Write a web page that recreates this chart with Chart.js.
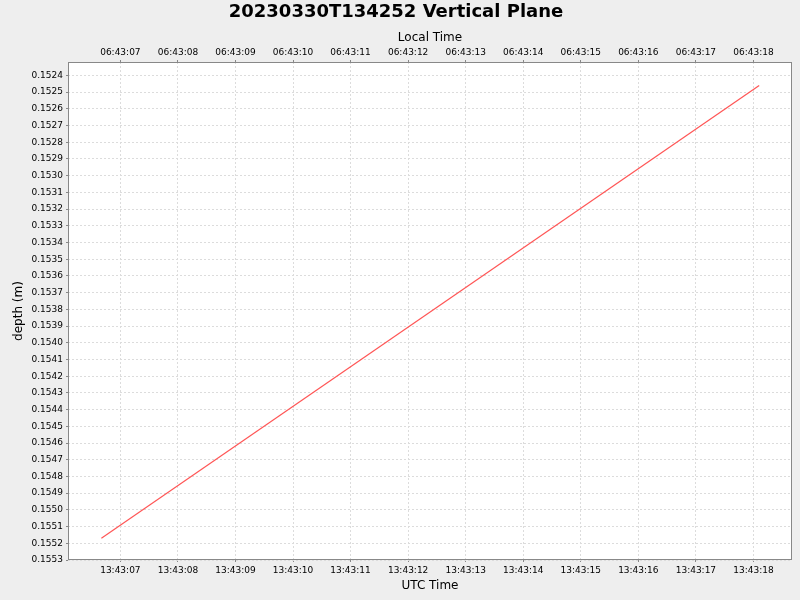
<!DOCTYPE html>
<html>
<head>
<meta charset="utf-8">
<script src="https://cdn.jsdelivr.net/npm/chart.js@4/dist/chart.umd.min.js"></script>
<style>
  html, body { margin: 0; padding: 0; background: #eeeeee; }
  #wrap { width: 800px; height: 600px; }
</style>
</head>
<body>
<div id="wrap"><canvas id="chart" width="800" height="600"></canvas></div>
<script>
// seconds after 13:43:00 UTC (local = UTC - 7h)
const timeSeconds = [6.67, 18.10]
const depthValues = [0.15517, 0.15246]

// tick labels
const tickSeconds = [7, 8, 9, 10, 11, 12, 13, 14, 15, 16, 17, 18]
const utcTickLabels = ['13:43:07', '13:43:08', '13:43:09', '13:43:10', '13:43:11', '13:43:12',
  '13:43:13', '13:43:14', '13:43:15', '13:43:16', '13:43:17', '13:43:18']
const localTickLabels = ['06:43:07', '06:43:08', '06:43:09', '06:43:10', '06:43:11', '06:43:12',
  '06:43:13', '06:43:14', '06:43:15', '06:43:16', '06:43:17', '06:43:18']
const depthTicks = [0.1524, 0.1525, 0.1526, 0.1527, 0.1528, 0.1529, 0.1530, 0.1531, 0.1532, 0.1533,
  0.1534, 0.1535, 0.1536, 0.1537, 0.1538, 0.1539, 0.1540, 0.1541, 0.1542, 0.1543,
  0.1544, 0.1545, 0.1546, 0.1547, 0.1548, 0.1549, 0.1550, 0.1551, 0.1552, 0.1553]

const FONT = 'DejaVu Sans'
const gridStyle = {
  color: '#dcdcdc',
  tickLength: 2,
  tickColor: '#888888',
  tickBorderDash: []
}
// grid lines dashed (v4 takes the dash from the border options)
const borderStyle = { display: false, dash: [2, 2] }

// white plot area with a grey frame, like the original
const plotFrame = {
  id: 'plotFrame',
  beforeDraw(chart) {
    const { ctx, chartArea: a } = chart
    ctx.save()
    ctx.fillStyle = '#eeeeee'
    ctx.fillRect(0, 0, chart.width, chart.height)
    ctx.fillStyle = '#ffffff'
    ctx.fillRect(a.left, a.top, a.right - a.left, a.bottom - a.top)
    ctx.restore()
  },
  afterDraw(chart) {
    const { ctx, chartArea: a } = chart
    ctx.save()
    ctx.strokeStyle = '#888888'
    ctx.lineWidth = 1
    ctx.strokeRect(a.left + 0.5, a.top + 0.5, a.right - a.left - 1, a.bottom - a.top - 1)
    ctx.restore()
  }
}

function fixedTicks(values) {
  return function(scale) {
    scale.ticks = values.map(v => ({ value: v }))
  }
}

function labelFor(list) {
  return function(value) {
    const i = tickSeconds.indexOf(Math.round(value))
    return i >= 0 ? list[i] : ''
  }
}

const ctx = document.getElementById('chart').getContext('2d')
new Chart(ctx, {
  type: 'line',
  data: {
    datasets: [{
      data: timeSeconds.map((t, i) => ({ x: t, y: depthValues[i] })),
      borderColor: '#ff5555',
      borderWidth: 1.2,
      pointRadius: 0,
      fill: false,
      tension: 0
    }]
  },
  options: {
    responsive: false,
    animation: false,
    devicePixelRatio: 1,
    layout: { padding: { top: 0, right: 8, bottom: 0, left: 0 } },
    plugins: {
      legend: { display: false },
      tooltip: { enabled: false },
      title: {
        display: true,
        text: '20230330T134252 Vertical Plane',
        color: '#000000',
        padding: { top: 2, bottom: 0 },
        font: { family: FONT, size: 18, weight: 'bold', lineHeight: 1.2 }
      }
    },
    scales: {
      x: {
        type: 'linear',
        position: 'bottom',
        min: 6.09,
        max: 18.67,
        afterBuildTicks: fixedTicks(tickSeconds),
        afterFit(scale) { scale.height = 40 },
        grid: gridStyle,
        border: borderStyle,
        ticks: {
          color: '#000000',
          padding: 3,
          maxRotation: 0,
          autoSkip: false,
          font: { family: FONT, size: 9 },
          callback: labelFor(utcTickLabels)
        },
        title: {
          display: true,
          text: 'UTC Time',
          color: '#000000',
          padding: { top: 0, bottom: 7 },
          font: { family: FONT, size: 12, lineHeight: 1.2 }
        }
      },
      xTop: {
        type: 'linear',
        position: 'top',
        min: 6.09,
        max: 18.67,
        afterBuildTicks: fixedTicks(tickSeconds),
        afterFit(scale) { scale.height = 38.4 },
        grid: { ...gridStyle, drawOnChartArea: false },
        border: borderStyle,
        ticks: {
          color: '#000000',
          padding: 1.5,
          maxRotation: 0,
          autoSkip: false,
          font: { family: FONT, size: 9 },
          callback: labelFor(localTickLabels)
        },
        title: {
          display: true,
          text: 'Local Time',
          color: '#000000',
          padding: { top: 7.2, bottom: 0 },
          font: { family: FONT, size: 12, lineHeight: 1.2 }
        }
      },
      y: {
        type: 'linear',
        position: 'left',
        reverse: true,
        min: 0.15232,
        max: 0.1553,
        afterBuildTicks: fixedTicks(depthTicks),
        afterFit(scale) { scale.width = 68 },
        grid: gridStyle,
        border: borderStyle,
        ticks: {
          color: '#000000',
          padding: 3,
          autoSkip: false,
          font: { family: FONT, size: 9 },
          callback: v => v.toFixed(4)
        },
        title: {
          display: true,
          text: 'depth (m)',
          color: '#000000',
          padding: { top: 11.5, bottom: 0 },
          font: { family: FONT, size: 12, lineHeight: 1.2 }
        }
      }
    }
  },
  plugins: [plotFrame]
})
</script>
</body>
</html>
